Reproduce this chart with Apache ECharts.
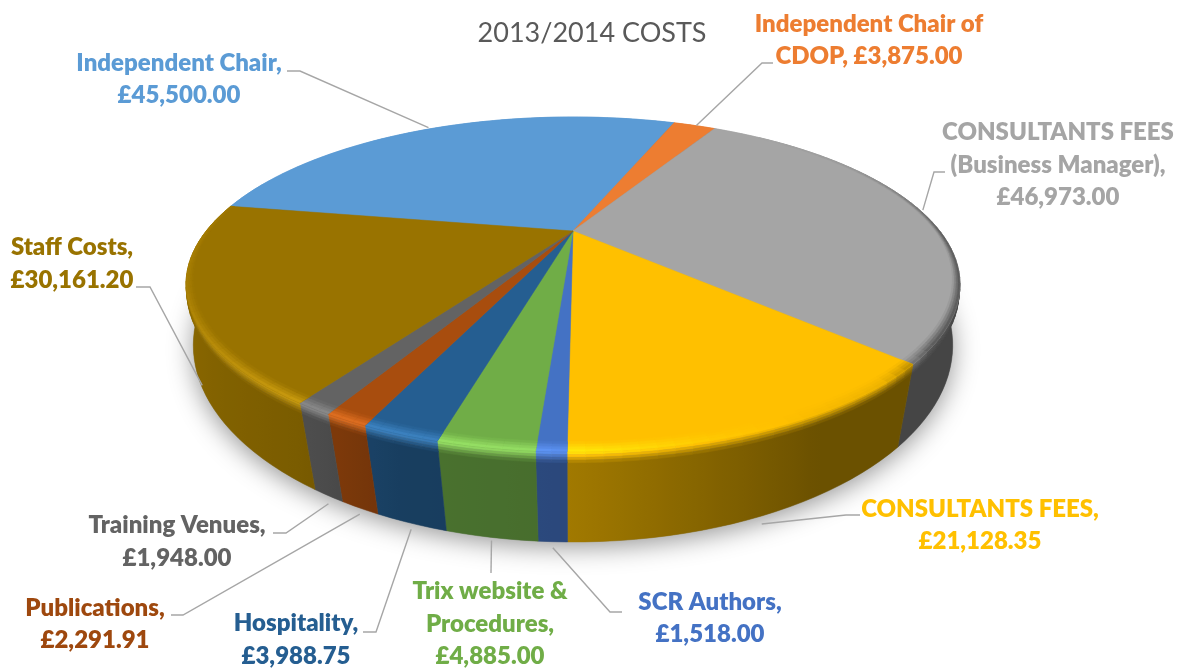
<!DOCTYPE html>
<html>
<head>
<meta charset="utf-8">
<style>html,body{margin:0;padding:0;background:#fff}#c{width:1177px;height:668px}</style>
<script src="https://cdn.jsdelivr.net/npm/echarts@6/dist/echarts.min.js"></script>
</head>
<body>
<div id="c"></div>
<script>
// ---- data ----
const titleText = '2013/2014 COSTS';
const categories = ['Independent Chair','Independent Chair of\nCDOP','CONSULTANTS FEES\n(Business Manager)','CONSULTANTS FEES','SCR Authors','Trix website &\nProcedures','Hospitality','Publications','Training Venues','Staff Costs'];
const costs = [45500,3875,46973,21128.35,1518,4885,3988.75,2291.91,1948,30161.2];
const sameLineValue = [false,true,false,false,false,false,false,false,false,false];

// ---- style ----
const sliceColors = ['#5B9BD5','#ED7D31','#A5A5A5','#FFC000','#4472C4','#70AD47','#255E91','#A84D0E','#636363','#997300'];
const labelColors = ['#5B9BD5','#ED7D31','#A5A5A5','#FFC000','#4472C4','#70AD47','#255E91','#9E480E','#636363','#997300'];
const FIRST_ANGLE = -80;
const TOP = {cx:573, cy:231, R:366.8, S:150.4, k:0.319};
const BOT = {cx:573, cy:292, R:365.6, S:182.5, k:0.27};
const wallShade = [[-90,.9],[60,.5],[90,.42],[130,.42],[150,.42],[165,.52],[180,.63],[200,.66],[215,.8],[250,.9],[290,.93],[300,.93]];
const bevelAmount = [[-90,0],[40,0],[90,1],[270,1],[285,.3],[300,0]];
const bevelTone = [[-90,1],[60,.78],[90,.5],[128,.5],[140,.92],[165,1.04],[185,1.22],[210,1.25],[250,1.08],[300,1.03]];
// label block centres and leader elbows (screen layout of annotations)
const labelBox = [[179,79.5],[869,40.5],[1058,165],[980,525.5],[710,618.5],[490,624],[296,640],[95,624.5],[177,542],[72,264]];
const leaderElbow = [
 [[287,71],[300,71]], [[773,63],[762,63]], [[945,172],[934,172]], [[860,515],[846,515]],
 [[622,612],[610,612]], [[491,573]], [[363,632],[376,632]], [[171,615],[183,615]],
 [[273,533],[286,533]], [[136,287],[150,287]]
];
const leaderOnTop = [true,true,true,false,false,false,false,false,false,false];
const leaderNudge = [[-3,-1],[2,0],[3,0],[0,8],[0,6],[0,3],[0,6],[0,6],[0,8],[5,12]];
const FONT = 'Lato, Carlito, Calibri, sans-serif';
const VIS_FROM = 106, VIS_TO = 254;   // part of the rim that shows a wall

// ---- helpers ----
const total = costs.reduce((a,b)=>a+b,0);
const starts = []; costs.reduce((acc,v,i)=>{starts[i]=acc; return acc+v/total*360;},FIRST_ANGLE);
const spanOf = i => costs[i]/total*360;
function proj(P,r,deg){
  const t=deg*Math.PI/180,u=r*Math.sin(t),v=-r*Math.cos(t),w=1/(1-P.k*v);
  return [P.cx+P.R*u*w,P.cy+P.S*v*w];
}
function lerpTable(tb,a){
  a = a>300 ? a-360 : a;
  for(let i=1;i<tb.length;i++){ if(a<=tb[i][0]){const p=tb[i-1],q=tb[i];return p[1]+(q[1]-p[1])*(a-p[0])/(q[0]-p[0]);}}
  return tb[tb.length-1][1];
}
function rgb(h){return [parseInt(h.slice(1,3),16),parseInt(h.slice(3,5),16),parseInt(h.slice(5,7),16)];}
function css(c){return 'rgb('+c.map(x=>Math.max(0,Math.min(255,Math.round(x)))).join(',')+')';}
const mix=(a,b,t)=>a.map((x,i)=>x+(b[i]-x)*t);
const tone=(c,L)=>c.map(x=>x*L+(L>1?(L-1)*70:0));
const lerpP=(p,q,t)=>[p[0]+(q[0]-p[0])*t,p[1]+(q[1]-p[1])*t];
function quad(a,b,c,d,color){
  return {type:'polygon',shape:{points:[a,b,c,d]},style:{fill:color,stroke:color,lineWidth:.5}};
}
const money=v=>'£'+v.toLocaleString('en-GB',{minimumFractionDigits:2,maximumFractionDigits:2});
const labelText=i=>categories[i]+','+(sameLineValue[i]?' ':'\n')+money(costs[i]);

function steps(i){
  const n=Math.max(1,Math.ceil(spanOf(i)/2)),out=[];
  for(let j=0;j<=n;j++) out.push(starts[i]+spanOf(i)*j/n);
  return out;
}
const BAND=.12;
function wallGradient(i,base,A){
  const seen=A.filter(a=>a>=VIS_FROM&&a<=VIS_TO);
  if(seen.length<2) return css(tone(base,lerpTable(wallShade,A[Math.floor(A.length/2)])));
  const xs=seen.map(a=>lerpP(proj(TOP,1,a),proj(BOT,1,a),.6)[0]);
  const x0=Math.min.apply(null,xs),x1=Math.max.apply(null,xs);
  const stops=seen.map((a,j)=>({offset:(xs[j]-x0)/(x1-x0),color:css(tone(base,lerpTable(wallShade,a)))}));
  stops.sort((p,q)=>p.offset-q.offset);
  return {type:'linear',x:x0,y:0,x2:x1,y2:0,global:true,colorStops:stops};
}
function wallItem(params){
  const i=params.dataIndex,base=rgb(sliceColors[i]),kids=[],A=steps(i);
  const upper=A.map(a=>lerpP(proj(TOP,1,a),proj(BOT,1,a),BAND-.01));
  const lower=A.map(a=>proj(BOT,1,a)).reverse();
  const fill=wallGradient(i,base,A);
  kids.push({type:'polygon',shape:{points:upper.concat(lower)},style:{fill:fill,stroke:fill,lineWidth:.5}});
  const bands=[0,.03,.06,.09,BAND];
  for(let j=0;j<A.length-1;j++){
    const a=A[j],b=A[j+1],m=(a+b)/2;
    const t0=proj(TOP,1,a),t1=proj(TOP,1,b),b0=proj(BOT,1,a),b1=proj(BOT,1,b);
    const wall=tone(base,lerpTable(wallShade,m));
    const hi=mix(base,tone(base,lerpTable(bevelTone,m)),lerpTable(bevelAmount,m));
    for(let q=0;q<bands.length-1;q++){
      const f=(bands[q]+bands[q+1])/2/BAND;
      kids.push(quad(lerpP(t0,b0,bands[q]),lerpP(t1,b1,bands[q]),lerpP(t1,b1,bands[q+1]),lerpP(t0,b0,bands[q+1]),css(mix(hi,wall,f))));
    }
  }
  return {type:'group',children:kids};
}

function faceItem(params){
  const i=params.dataIndex,base=rgb(sliceColors[i]),A=steps(i),kids=[];
  const pts=[[TOP.cx,TOP.cy]].concat(A.map(a=>proj(TOP,1,a)));
  kids.push({type:'polygon',shape:{points:pts},style:{fill:sliceColors[i],stroke:sliceColors[i],lineWidth:.5}});
  const ringAt=(q,a)=>{ // ring inner edge narrows towards the sides of the disc
    const front=Math.max(0,-Math.cos(a*Math.PI/180));
    return 1-(.012+.02*front)*(1-q/4);
  };
  for(let j=0;j<A.length-1;j++){
    const a=A[j],b=A[j+1],m=(a+b)/2,amt=lerpTable(bevelAmount,m);
    if(amt<=0) continue;
    const hi=mix(base,tone(base,lerpTable(bevelTone,m)),amt);
    for(let q=0;q<4;q++){
      kids.push(quad(proj(TOP,ringAt(q,a),a),proj(TOP,ringAt(q,b),b),proj(TOP,ringAt(q+1,b),b),proj(TOP,ringAt(q+1,a),a),css(mix(base,hi,(q+.5)/4))));
    }
  }
  return {type:'group',children:kids};
}

function shadowItem(){
  const pts=[];
  for(let a=0;a<360;a+=3) pts.push(proj(BOT,1,a));
  return {type:'polygon',shape:{points:pts},style:{fill:'#888',shadowBlur:26,shadowColor:'rgba(0,0,0,.42)',shadowOffsetY:5}};
}

function labelItem(params){
  const i=params.dataIndex,mid=starts[i]+spanOf(i)/2;
  const p=proj(leaderOnTop[i]?TOP:BOT,1,mid);
  const end=[p[0]+leaderNudge[i][0],p[1]+leaderNudge[i][1]];
  return {type:'group',children:[
    {type:'polyline',shape:{points:leaderElbow[i].concat([end])},style:{fill:null,stroke:'#A6A6A6',lineWidth:1.4}},
    {type:'text',style:{text:labelText(i),x:labelBox[i][0],y:labelBox[i][1],fill:labelColors[i],
      font:'800 24px '+FONT,align:'center',verticalAlign:'middle',lineHeight:32.5}}
  ]};
}

const rows=costs.map((v,i)=>[i,v]);
const chart=echarts.init(document.getElementById('c'),null,{renderer:'canvas'});
chart.setOption({
  animation:false,
  backgroundColor:'#fff',
  title:{text:titleText,left:587,top:15,textAlign:'center',textStyle:{fontFamily:FONT,fontWeight:'normal',fontSize:27,color:'#595959'}},
  series:[
    {type:'custom',coordinateSystem:'none',silent:true,z:1,data:[[0,total]],renderItem:shadowItem},
    {type:'custom',coordinateSystem:'none',silent:true,z:2,data:rows,renderItem:wallItem},
    {type:'custom',coordinateSystem:'none',silent:true,z:3,data:rows,renderItem:faceItem},
    {type:'custom',coordinateSystem:'none',silent:true,z:4,data:rows,renderItem:labelItem}
  ]
});
</script>
</body>
</html>
